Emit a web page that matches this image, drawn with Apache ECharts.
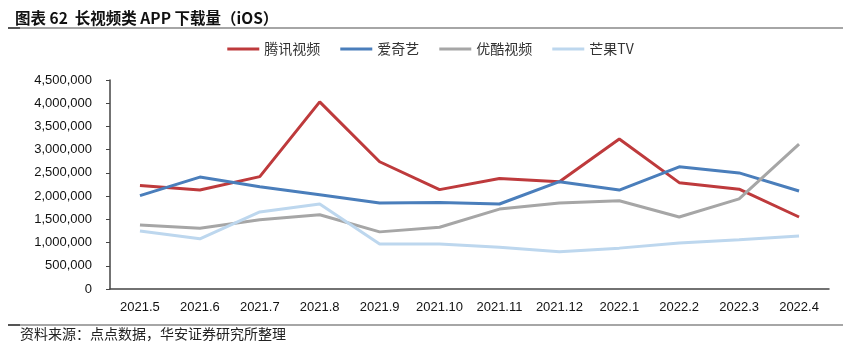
<!DOCTYPE html>
<html>
<head>
<meta charset="utf-8">
<script src="https://cdn.jsdelivr.net/npm/echarts@6/dist/echarts.min.js"></script>
<style>
  html, body { margin: 0; padding: 0; background: #fff; }
  #chart { width: 861px; height: 351px; }
</style>
</head>
<body>
<div id="chart"></div>
<script>
// 长视频类 APP 下载量（iOS）
const months = ['2021.5', '2021.6', '2021.7', '2021.8', '2021.9', '2021.10',
  '2021.11', '2021.12', '2022.1', '2022.2', '2022.3', '2022.4'];
const tencent = [2230000, 2130000, 2420000, 4030000, 2740000, 2140000,
  2380000, 2310000, 3230000, 2290000, 2150000, 1550000];
const iqiyi = [2010000, 2410000, 2200000, 2030000, 1850000, 1860000,
  1830000, 2310000, 2130000, 2630000, 2500000, 2110000];
const youku = [1380000, 1310000, 1490000, 1600000, 1230000, 1330000,
  1720000, 1850000, 1900000, 1550000, 1940000, 3120000];
const mango = [1250000, 1080000, 1660000, 1830000, 970000, 970000,
  900000, 800000, 880000, 990000, 1060000, 1140000];

const cjk = '"Noto Sans CJK SC", sans-serif';
const latin = '"Liberation Sans", Arial, sans-serif';

let chart = echarts.init(document.getElementById('chart'), null, { renderer: 'canvas' });

function line(name, data, color) {
  return {
    name: name,
    type: 'line',
    data: data,
    symbol: 'none',
    lineStyle: { color: color, width: 3 },
    itemStyle: { color: color }
  };
}

chart.setOption({
  animation: false,
  backgroundColor: '#fff',
  title: {
    text: '图表 62  长视频类 APP 下载量（iOS）',
    left: 10, top: 5,
    textStyle: { fontFamily: cjk, fontSize: 15.5, fontWeight: 'bold', color: '#111' }
  },
  graphic: [
    // 标题下划线
    { type: 'rect', shape: { x: 8, y: 27, width: 835, height: 2 }, style: { fill: '#a6a6a6' } },
    { type: 'rect', shape: { x: 8, y: 27, width: 12, height: 2 }, style: { fill: '#555' } },
    // 底部分隔线
    { type: 'rect', shape: { x: 8, y: 324, width: 835, height: 2 }, style: { fill: '#a6a6a6' } },
    { type: 'rect', shape: { x: 8, y: 324, width: 12, height: 2 }, style: { fill: '#555' } },
    {
      type: 'text', left: 20, top: 327,
      style: { text: '资料来源：点点数据，华安证券研究所整理', font: '14px ' + cjk, fill: '#222' }
    }
  ],
  legend: {
    top: 37,
    left: 'center',
    itemWidth: 32,
    itemHeight: 3,
    itemGap: 20,
    icon: 'rect',
    textStyle: { fontFamily: cjk, fontSize: 14, color: '#333' },
    data: ['腾讯视频', '爱奇艺', '优酷视频', '芒果TV']
  },
  grid: { left: 110, right: 32, top: 80, bottom: 62, containLabel: false },
  xAxis: {
    type: 'category',
    data: months,
    boundaryGap: true,
    axisLine: { lineStyle: { color: '#444', width: 1.5 } },
    axisTick: { show: false },
    axisLabel: { fontFamily: latin, fontSize: 13, color: '#111', margin: 12, interval: 0 }
  },
  yAxis: {
    type: 'value',
    min: 0,
    max: 4500000,
    interval: 500000,
    axisLine: { show: true, lineStyle: { color: '#444', width: 1.5 } },
    axisTick: { show: true, inside: false, length: 4, lineStyle: { color: '#444' } },
    splitLine: { show: false },
    axisLabel: {
      fontFamily: latin, fontSize: 13, color: '#111', margin: 18,
      formatter: v => v.toLocaleString('en-US')
    }
  },
  series: [
    line('腾讯视频', tencent, '#be3a3c'),
    line('爱奇艺', iqiyi, '#4a7ebb'),
    line('优酷视频', youku, '#a6a6a6'),
    line('芒果TV', mango, '#bdd7ee')
  ]
});
</script>
</body>
</html>
